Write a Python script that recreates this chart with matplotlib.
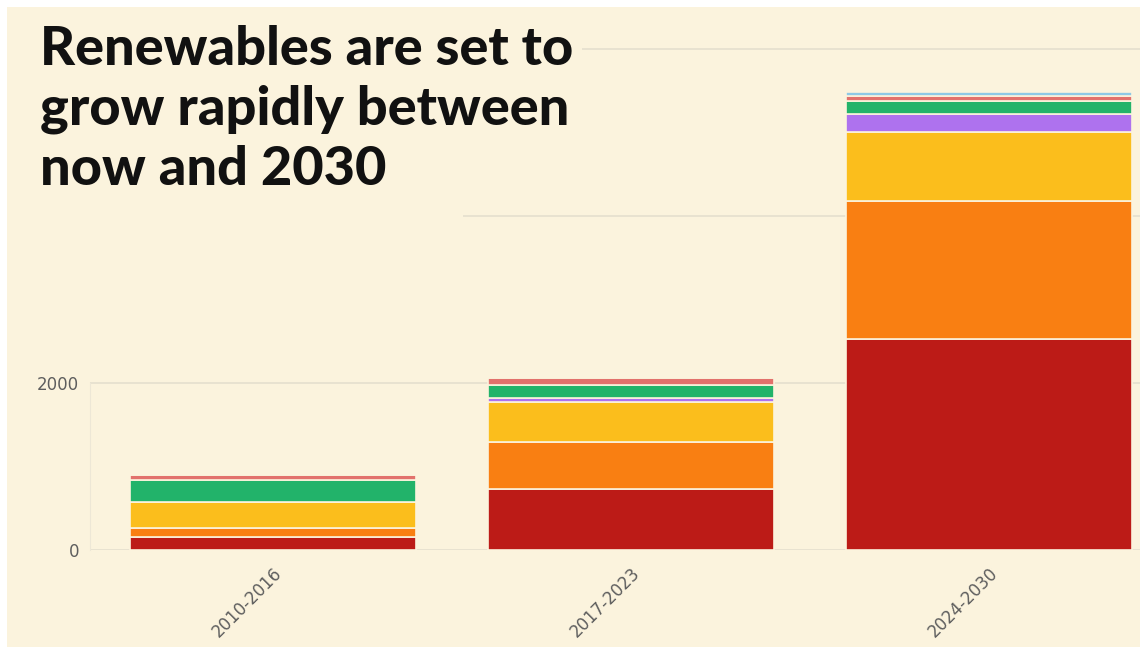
import matplotlib
matplotlib.use('Agg')
import matplotlib.pyplot as plt
from matplotlib.patches import Rectangle
import numpy as np

# capacity additions per period, stacked bottom -> top
periods = ['2010-2016', '2017-2023', '2024-2030']
solar_pv = [150, 730, 2530]
wind = [113, 563, 1650]
hydro = [312, 479, 832]
other = [0, 50, 204]
bioenergy = [269, 160, 161]
geothermal = [54, 78, 66]
ocean = [0, 0, 42]

series = [solar_pv, wind, hydro, other, bioenergy, geothermal, ocean]
colours = ['#BC1B17', '#F97F12', '#FBBE1C', '#AE72EE', '#22B36A', '#E2716C', '#8EC9E6']

cream = '#FBF3DD'
W, H = 1140, 647

fig = plt.figure(figsize=(11.4, 6.47), dpi=100, facecolor='white')
# cream panel with a thin white border top/left
fig.patches.append(Rectangle((7/W, 0), 1, 1 - 7/H, transform=fig.transFigure,
                             facecolor=cream, edgecolor='none', zorder=-10))

ax = fig.add_axes([90/W, 97/H, 1050/W, 520/H])
ax.set_facecolor('none')

x = np.arange(len(periods))
bottom = np.zeros(len(periods))
for vals, col in zip(series, colours):
    ax.bar(x, vals, width=0.8, bottom=bottom, color=col,
           edgecolor=cream, linewidth=1.2, zorder=3)
    bottom += np.array(vals)

ax.set_xlim(-0.511, 2.422)
ax.set_ylim(0, 6228)
ax.set_yticks([0, 2000, 4000, 6000])
ax.set_yticklabels(['0', '2000', '', ''])
ax.set_xticks(x)
ax.set_xticklabels(periods, rotation=45, ha='right', rotation_mode='anchor')
ax.tick_params(axis='both', length=0, labelcolor='#5e5e5e', labelsize=12)
ax.tick_params(axis='y', pad=8)
ax.tick_params(axis='x', pad=10)
ax.grid(axis='y', color='#E7E1CF', linewidth=1.3, zorder=0)
for s in ['top', 'right', 'bottom']:
    ax.spines[s].set_visible(False)
ax.spines['left'].set_color('#EDE7D6')
ax.spines['left'].set_bounds(0, 2000)

# title panel hides the upper gridlines
fig.patches.append(Rectangle((7/W, 1 - 232/H), 456/W, 225/H, transform=fig.transFigure,
                             facecolor=cream, edgecolor='none', zorder=4))
fig.patches.append(Rectangle((7/W, 1 - 62/H), 575/W, 55/H, transform=fig.transFigure,
                             facecolor=cream, edgecolor='none', zorder=4))

fig.text(40/W, 1 - 25/H, 'Renewables are set to\ngrow rapidly between\nnow and 2030',
         fontsize=39, fontweight='black', family=['Lato', 'DejaVu Sans'],
         color='#111111', va='top', ha='left', linespacing=1.27, zorder=5)

fig.savefig('out.png', dpi=100, facecolor=fig.get_facecolor())
